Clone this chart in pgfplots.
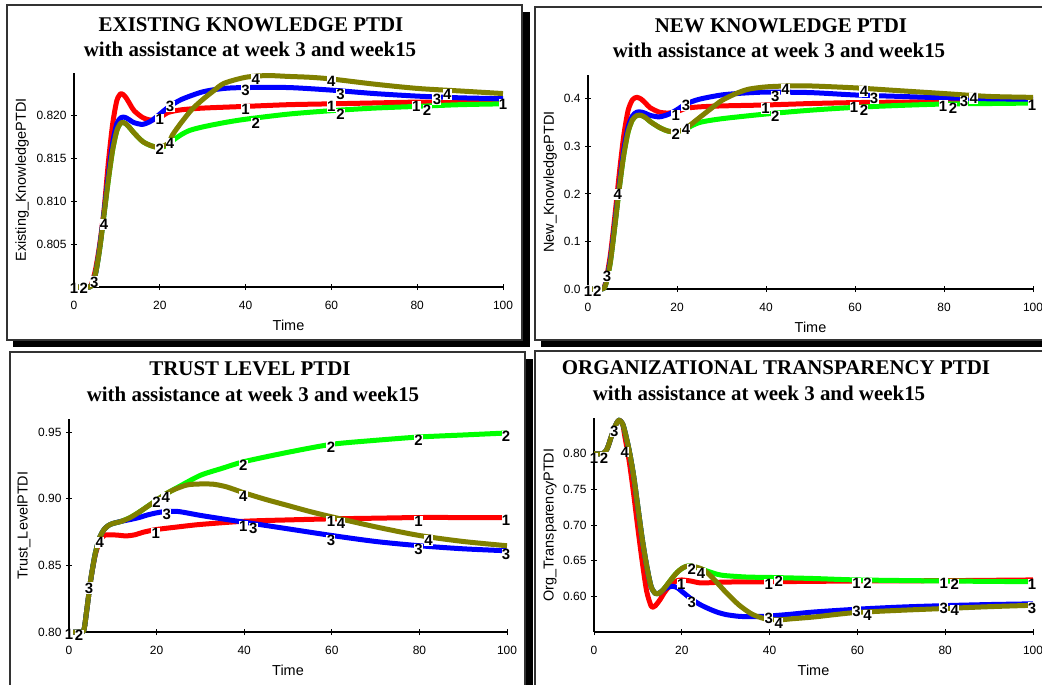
\documentclass[border=0pt]{standalone}
\usepackage{fontspec}
\setmainfont{Liberation Serif}
\setsansfont{Liberation Sans}
\usepackage{pgfplots}
\pgfplotsset{compat=1.18}
\definecolor{cred}{RGB}{255,0,0}
\definecolor{cgreen}{RGB}{0,255,0}
\definecolor{cblue}{RGB}{0,0,255}
\definecolor{colive}{RGB}{128,128,0}
\pgfplotsset{
  vplot/.style={
    scale only axis,
    axis x line*=bottom, axis y line*=left,
    axis line style={-, line width=1.2bp, black},
    xmin=0, xmax=100, xtick={0,20,40,60,80,100},
    tick align=center, major tick length=6bp,
    tick style={black, line width=1bp},
    /pgf/number format/assume math mode=true,
    tick label style={font=\sffamily\fontsize{12}{14}\selectfont},
    xticklabel style={yshift=-7.5bp},
    yticklabel style={xshift=-1bp},
    label style={font=\sffamily\fontsize{14.5}{16}\selectfont},
    xlabel={Time},
    xlabel style={at={(axis description cs:0.5,-0.178)}, anchor=center},
    yticklabel style={/pgf/number format/fixed, /pgf/number format/fixed zerofill},
    every axis plot/.append style={line width=5bp, line join=round, smooth, tension=0.45},
    clip=false,
  },
  lab/.style={draw=none, mark=none, point meta=explicit symbolic, nodes near coords,
    every node near coord/.append style={anchor=center, font=\sffamily\bfseries\fontsize{15}{15}\selectfont, fill=white, inner sep=0.3bp, text=black}},
}
\newcommand{\frm}[4]{%
  \fill[black] ({#1bp+6bp},{-#2bp-7bp}) rectangle ({#3bp+8bp},{-#4bp-7bp});
  \filldraw[fill=white, draw=black!80, line width=1.3bp] (#1bp,-#2bp) rectangle (#3bp,-#4bp);}
\newcommand{\ttl}[3]{\node[font=\rmfamily\bfseries\fontsize{21}{24}\selectfont, inner sep=0] at (#1bp,-#2bp) {#3};}
\begin{document}
\begin{tikzpicture}
\useasboundingbox (0,0) rectangle (1042bp,-685bp);
\clip (0,0) rectangle (1042bp,-685bp);
\fill[white] (0,0) rectangle (1042bp,-685bp);
% frames
\frm{7}{5}{522}{340}
\frm{535}{7}{1060}{340}
\frm{10}{352}{525}{700}
\frm{535}{351}{1060}{700}
% titles
\ttl{251}{25}{EXISTING KNOWLEDGE PTDI}
\ttl{250}{49}{with assistance at week 3 and week15}
\ttl{781}{26}{NEW KNOWLEDGE PTDI}
\ttl{779}{50}{with assistance at week 3 and week15}
\ttl{250}{369}{TRUST LEVEL PTDI}
\ttl{253}{394}{with assistance at week 3 and week15}
\ttl{776}{368}{ORGANIZATIONAL TRANSPARENCY PTDI}
\ttl{759}{393}{with assistance at week 3 and week15}

% ---------------- Panel 1
\begin{axis}[vplot, at={(74bp,-287bp)}, anchor=south west, width=429bp, height=214bp,
  ymin=0.800, ymax=0.825, ytick={0.805,0.810,0.815,0.820},
  yticklabel style={/pgf/number format/precision=3},
  ylabel={Existing\_KnowledgePTDI},
  ylabel style={at={(axis description cs:-0.121,0.5)}, anchor=center}]
\addplot[cred] coordinates {(0,0.8000) (3,0.8000) (4,0.8002) (5,0.802) (6,0.805) (7,0.809) (8,0.8145) (9,0.819) (10,0.8218) (11,0.8226) (12,0.8222) (13,0.8214) (14,0.8206) (16,0.8198) (18,0.8195) (20,0.8198) (22,0.8204) (25,0.8207) (30,0.8209) (40,0.8211) (50,0.8213) (60,0.8214) (70,0.8215) (80,0.8216) (90,0.8216) (100,0.8216)};
\addplot[cgreen] coordinates {(0,0.8000) (3,0.8000) (4,0.8001) (5,0.8015) (6,0.8045) (7,0.8085) (8,0.8125) (9,0.816) (10,0.8183) (11,0.8192) (12,0.8191) (13,0.8186) (14,0.818) (16,0.817) (18,0.8165) (20,0.8163) (22,0.8166) (23,0.8171) (25,0.8178) (27,0.8183) (30,0.8187) (35,0.8192) (40,0.8196) (50,0.8202) (60,0.8206) (70,0.8209) (80,0.8211) (90,0.8213) (100,0.8214)};
\addplot[cblue] coordinates {(0,0.8000) (3,0.8000) (4,0.8001) (5,0.8015) (6,0.8047) (7,0.8087) (8,0.813) (9,0.8168) (10,0.8191) (11,0.8198) (12,0.8198) (13,0.8195) (14,0.8192) (16,0.819) (18,0.8194) (20,0.8202) (22,0.821) (25,0.8219) (30,0.8228) (35,0.8232) (40,0.8233) (50,0.8233) (60,0.823) (70,0.8226) (80,0.8223) (90,0.8221) (100,0.822)};
\addplot[colive] coordinates {(0,0.8000) (3,0.8000) (4,0.8001) (5,0.8015) (6,0.8045) (7,0.8085) (8,0.8125) (9,0.816) (10,0.8183) (11,0.8192) (12,0.8191) (13,0.8186) (14,0.818) (16,0.817) (18,0.8165) (20,0.8163) (22,0.8168) (23,0.8178) (25,0.8192) (27.4,0.8207) (30,0.8219) (32.5,0.8229) (35,0.8238) (40,0.8245) (45,0.8247) (50,0.8246) (55,0.8245) (60,0.8243) (70,0.8237) (80,0.8232) (90,0.8229) (100,0.8226)};
\addplot[lab] coordinates {(0,0.7998) [1] (2.3,0.7998) [2] (4.7,0.8006) [3] (7,0.8073) [4]
 (20,0.8196) [1] (22.4,0.8211) [3] (20,0.8161) [2] (22.4,0.8168) [4]
 (40,0.8230) [3] (42.4,0.8243) [4] (40,0.8207) [1] (42.4,0.8191) [2]
 (60,0.8240) [4] (62.1,0.8225) [3] (60,0.8211) [1] (62.1,0.8202) [2]
 (79.8,0.8211) [1] (82.3,0.8206) [2] (84.6,0.8219) [3] (87,0.8225) [4]
 (100,0.8213) [1]};
\end{axis}

% ---------------- Panel 2
\begin{axis}[vplot, at={(588bp,-289bp)}, anchor=south west, width=445bp, height=214bp,
  ymin=0, ymax=0.45, ytick={0,0.1,0.2,0.3,0.4},
  yticklabel style={/pgf/number format/precision=1},
  ylabel={New\_KnowledgePTDI},
  ylabel style={at={(axis description cs:-0.085,0.5)}, anchor=center}]
\addplot[cred] coordinates {(0,0) (3,0) (3.5,0.002) (4,0.015) (5,0.07) (6,0.15) (7,0.24) (8,0.32) (9,0.375) (10,0.398) (11,0.403) (12,0.399) (13,0.39) (14,0.381) (16,0.372) (18,0.37) (20,0.373) (22,0.38) (25,0.383) (30,0.385) (40,0.387) (50,0.39) (60,0.392) (70,0.393) (80,0.394) (90,0.394) (100,0.394)};
\addplot[cgreen] coordinates {(0,0) (3,0) (3.5,0.001) (4,0.01) (5,0.055) (6,0.13) (7,0.21) (8,0.28) (9,0.33) (10,0.356) (11,0.365) (12,0.365) (13,0.36) (14,0.352) (16,0.34) (18,0.332) (20,0.331) (22,0.337) (25,0.35) (30,0.358) (40,0.368) (50,0.376) (60,0.382) (70,0.386) (80,0.389) (90,0.39) (100,0.391)};
\addplot[cblue] coordinates {(0,0) (3,0) (3.5,0.001) (4,0.012) (5,0.06) (6,0.135) (7,0.215) (8,0.29) (9,0.34) (10,0.364) (11,0.372) (12,0.372) (13,0.369) (14,0.365) (16,0.362) (18,0.367) (20,0.377) (22,0.389) (25,0.399) (30,0.408) (35,0.412) (40,0.414) (50,0.413) (60,0.408) (70,0.405) (80,0.402) (90,0.4) (100,0.399)};
\addplot[colive] coordinates {(0,0) (3,0) (3.5,0.001) (4,0.01) (5,0.055) (6,0.13) (7,0.21) (8,0.28) (9,0.33) (10,0.356) (11,0.365) (12,0.365) (13,0.36) (14,0.352) (16,0.34) (18,0.332) (20,0.331) (22,0.337) (23,0.345) (25,0.36) (28,0.382) (30,0.396) (33,0.41) (36,0.42) (40,0.425) (45,0.427) (50,0.427) (60,0.423) (70,0.417) (80,0.411) (90,0.405) (100,0.403)};
\addplot[lab] coordinates {(0,-0.004) [1] (2.1,-0.004) [2] (4.3,0.027) [3] (6.7,0.198) [4]
 (19.7,0.366) [1] (22,0.387) [3] (19.7,0.326) [2] (22,0.336) [4]
 (42.1,0.405) [3] (44.4,0.419) [4] (39.9,0.380) [1] (42.1,0.363) [2]
 (62,0.415) [4] (64.3,0.400) [3] (59.8,0.382) [1] (62,0.375) [2]
 (79.8,0.385) [1] (82,0.380) [2] (84.5,0.394) [3] (86.7,0.400) [4]
 (99.8,0.387) [1]};
\end{axis}

% ---------------- Panel 3
\begin{axis}[vplot, at={(69bp,-632bp)}, anchor=south west, width=438bp, height=213bp,
  ymin=0.80, ymax=0.96, ytick={0.80,0.85,0.90,0.95},
  yticklabel style={/pgf/number format/precision=2},
  ylabel={Trust\_LevelPTDI},
  ylabel style={at={(axis description cs:-0.103,0.5)}, anchor=center}]
\addplot[cred] coordinates {(0,0.80) (3,0.80) (3.5,0.803) (4,0.815) (5,0.84) (6,0.858) (7,0.868) (8,0.8725) (9,0.873) (11,0.8728) (13,0.8722) (15,0.873) (17,0.875) (20,0.877) (25,0.879) (30,0.8808) (40,0.8832) (50,0.8842) (60,0.885) (70,0.8855) (80,0.886) (90,0.886) (100,0.886)};
\addplot[cgreen] coordinates {(0,0.80) (3,0.80) (3.5,0.803) (4,0.815) (5,0.84) (6,0.859) (7,0.871) (8,0.877) (9,0.88) (10,0.8815) (12,0.8832) (14,0.886) (16,0.89) (18,0.8945) (20,0.899) (22,0.9035) (25,0.909) (30,0.9177) (35,0.923) (40,0.928) (50,0.935) (60,0.941) (70,0.944) (80,0.9465) (90,0.948) (100,0.9495)};
\addplot[cblue] coordinates {(0,0.80) (3,0.80) (3.5,0.803) (4,0.815) (5,0.84) (6,0.859) (7,0.871) (8,0.877) (9,0.88) (10,0.8815) (12,0.8832) (14,0.8845) (16,0.886) (18,0.888) (20,0.8895) (22,0.8905) (25,0.8905) (30,0.8876) (35,0.885) (40,0.8825) (50,0.8775) (60,0.8725) (70,0.868) (80,0.8648) (90,0.8625) (100,0.861)};
\addplot[colive] coordinates {(0,0.80) (3,0.80) (3.5,0.803) (4,0.815) (5,0.84) (6,0.859) (7,0.871) (8,0.877) (9,0.88) (10,0.8815) (12,0.8832) (14,0.886) (16,0.89) (18,0.8945) (20,0.899) (22,0.9035) (24,0.907) (27,0.9105) (30,0.9112) (33,0.911) (36,0.909) (40,0.9045) (45,0.8995) (50,0.895) (55,0.8905) (60,0.8865) (70,0.879) (80,0.8725) (90,0.868) (100,0.8648)};
\addplot[lab] coordinates {(0,0.798) [1] (2.3,0.7975) [2] (4.6,0.833) [3] (7,0.8674) [4]
 (19.8,0.874) [1] (20,0.8973) [2] (22.1,0.901) [4] (22.3,0.8883) [3]
 (39.8,0.9253) [2] (39.8,0.902) [4] (39.8,0.879) [1] (42.1,0.878) [3]
 (59.8,0.939) [2] (59.8,0.8828) [1] (62.1,0.8816) [4] (59.8,0.869) [3]
 (79.8,0.944) [2] (79.8,0.883) [1] (82.1,0.869) [4] (79.8,0.862) [3]
 (99.8,0.947) [2] (99.8,0.8836) [1] (99.8,0.858) [3]};
\end{axis}

% ---------------- Panel 4
\begin{axis}[vplot, at={(594bp,-632bp)}, anchor=south west, width=439bp, height=214bp,
  ymin=0.55, ymax=0.85, ytick={0.60,0.65,0.70,0.75,0.80},
  yticklabel style={/pgf/number format/precision=2},
  ylabel={Org\_TransparencyPTDI},
  ylabel style={at={(axis description cs:-0.100,0.5)}, anchor=center}]
\addplot[cred] coordinates {(0,0.80) (2,0.80) (3,0.807) (4,0.825) (5,0.841) (5.7,0.847) (6.5,0.842) (7,0.825) (8,0.79) (9,0.745) (10,0.695) (11,0.648) (12,0.607) (13,0.5865) (13.5,0.585) (14,0.587) (15,0.595) (16,0.605) (17,0.613) (18,0.619) (19,0.622) (20,0.623) (22,0.6215) (24,0.619) (26,0.619) (30,0.62) (40,0.6205) (50,0.621) (60,0.6215) (80,0.622) (100,0.623)};
\addplot[cgreen] coordinates {(0,0.80) (2,0.80) (3,0.807) (4,0.825) (5,0.841) (5.7,0.847) (6.5,0.842) (7,0.832) (8,0.805) (9,0.77) (10,0.725) (11,0.68) (12,0.643) (13,0.614) (14,0.604) (15,0.605) (16,0.611) (17,0.619) (18,0.627) (19,0.634) (20,0.639) (21,0.642) (22,0.6425) (23,0.641) (25,0.637) (28,0.631) (30,0.629) (35,0.627) (40,0.6265) (50,0.625) (60,0.623) (80,0.6215) (100,0.6205)};
\addplot[cblue] coordinates {(0,0.80) (2,0.80) (3,0.807) (4,0.825) (5,0.841) (5.7,0.847) (6.5,0.842) (7,0.832) (8,0.805) (9,0.77) (10,0.725) (11,0.68) (12,0.643) (13,0.614) (14,0.604) (15,0.605) (16,0.61) (17,0.613) (18,0.614) (19,0.612) (20,0.607) (21,0.602) (22,0.597) (24,0.589) (26,0.583) (28,0.578) (30,0.5745) (33,0.572) (36,0.5715) (40,0.5725) (45,0.575) (50,0.578) (60,0.582) (70,0.585) (80,0.587) (90,0.5885) (100,0.5895)};
\addplot[colive] coordinates {(0,0.80) (2,0.80) (3,0.807) (4,0.825) (5,0.841) (5.7,0.847) (6.5,0.842) (7,0.832) (8,0.805) (9,0.77) (10,0.725) (11,0.68) (12,0.643) (13,0.614) (14,0.604) (15,0.605) (16,0.611) (17,0.619) (18,0.627) (19,0.634) (20,0.639) (21,0.642) (22,0.6425) (23,0.6415) (25,0.637) (27,0.626) (30,0.606) (33,0.588) (36,0.575) (39,0.5685) (42,0.567) (45,0.5685) (50,0.571) (55,0.5745) (60,0.5775) (70,0.5805) (80,0.583) (90,0.5855) (100,0.5875)};
\addplot[lab] coordinates {(0,0.794) [1] (2.3,0.794) [2] (4.6,0.8314) [3] (7,0.8023) [4]
 (19.9,0.6173) [1] (22.3,0.6375) [2] (24.4,0.6328) [4] (22.3,0.5916) [3]
 (39.8,0.6173) [1] (42.1,0.6206) [2] (39.8,0.569) [3] (42.1,0.562) [4]
 (59.8,0.618) [1] (62.3,0.618) [2] (59.8,0.5789) [3] (62.3,0.5738) [4]
 (79.7,0.618) [1] (82.2,0.6164) [2] (79.7,0.583) [3] (82.2,0.580) [4]
 (99.8,0.6173) [1] (99.8,0.5836) [3]};
\end{axis}
\end{tikzpicture}
\end{document}
